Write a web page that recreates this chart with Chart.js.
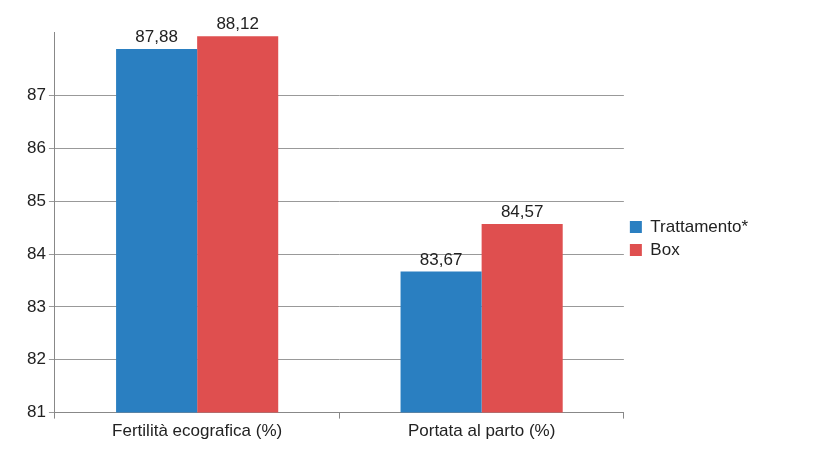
<!DOCTYPE html>
<html>
<head>
<meta charset="utf-8">
<script src="https://cdn.jsdelivr.net/npm/chart.js@4"></script>
<style>
  body { margin: 0; background: #fff; }
  #wrap { width: 820px; height: 461px; }
</style>
</head>
<body>
<div id="wrap"><canvas id="chart" width="820" height="461"></canvas></div>
<script>
const categories = ["Fertilità ecografica (%)", "Portata al parto (%)"];
const trattamento = [87.88, 83.67];
const box = [88.12, 84.57];
const seriesNames = ["Trattamento*", "Box"];

// etichette sopra le barre
const valueLabels = {
    id: "valueLabels",
    afterDatasetsDraw(chart) {
        const ctx = chart.ctx;
        ctx.save();
        ctx.font = "17px 'Liberation Sans', Arial, sans-serif";
        ctx.fillStyle = "#222";
        ctx.textAlign = "center";
        ctx.textBaseline = "bottom";
        chart.data.datasets.forEach((ds, i) => {
            chart.getDatasetMeta(i).data.forEach((bar, j) => {
                ctx.fillText(ds.data[j].toFixed(2).replace(".", ","), bar.x, bar.y - 3);
            });
        });
        ctx.restore();
    }
};

const ctx = document.getElementById("chart").getContext("2d");
new Chart(ctx, {
    type: "bar",
    data: {
        labels: categories,
        datasets: [
            { label: seriesNames[0], data: trattamento, backgroundColor: "#2A7FC1" },
            { label: seriesNames[1], data: box, backgroundColor: "#DF4F4F" }
        ]
    },
    options: {
        responsive: false,
        animation: false,
        layout: { padding: { top: 32, right: 62, left: 24, bottom: 16 } },
        datasets: { bar: { categoryPercentage: 0.57, barPercentage: 1 } },
        scales: {
            x: {
                grid: { offset: true, drawOnChartArea: false, color: "#888", tickLength: 6 },
                border: { color: "#888" },
                ticks: { color: "#222", font: { size: 17, family: "'Liberation Sans', Arial" } }
            },
            y: {
                min: 81, max: 88.2,
                afterBuildTicks: (axis) => { axis.ticks = axis.ticks.filter(t => Number.isInteger(t.value)); },
                ticks: { stepSize: 1, color: "#222", font: { size: 17, family: "'Liberation Sans', Arial" } },
                grid: { color: "#999", tickLength: 6 },
                border: { color: "#888" }
            }
        },
        plugins: {
            legend: {
                position: "right",
                labels: {
                    boxWidth: 12, boxHeight: 12, padding: 6, color: "#222",
                    font: { size: 17, family: "'Liberation Sans', Arial" }
                }
            },
            tooltip: { enabled: false }
        }
    },
    plugins: [valueLabels]
});
</script>
</body>
</html>
